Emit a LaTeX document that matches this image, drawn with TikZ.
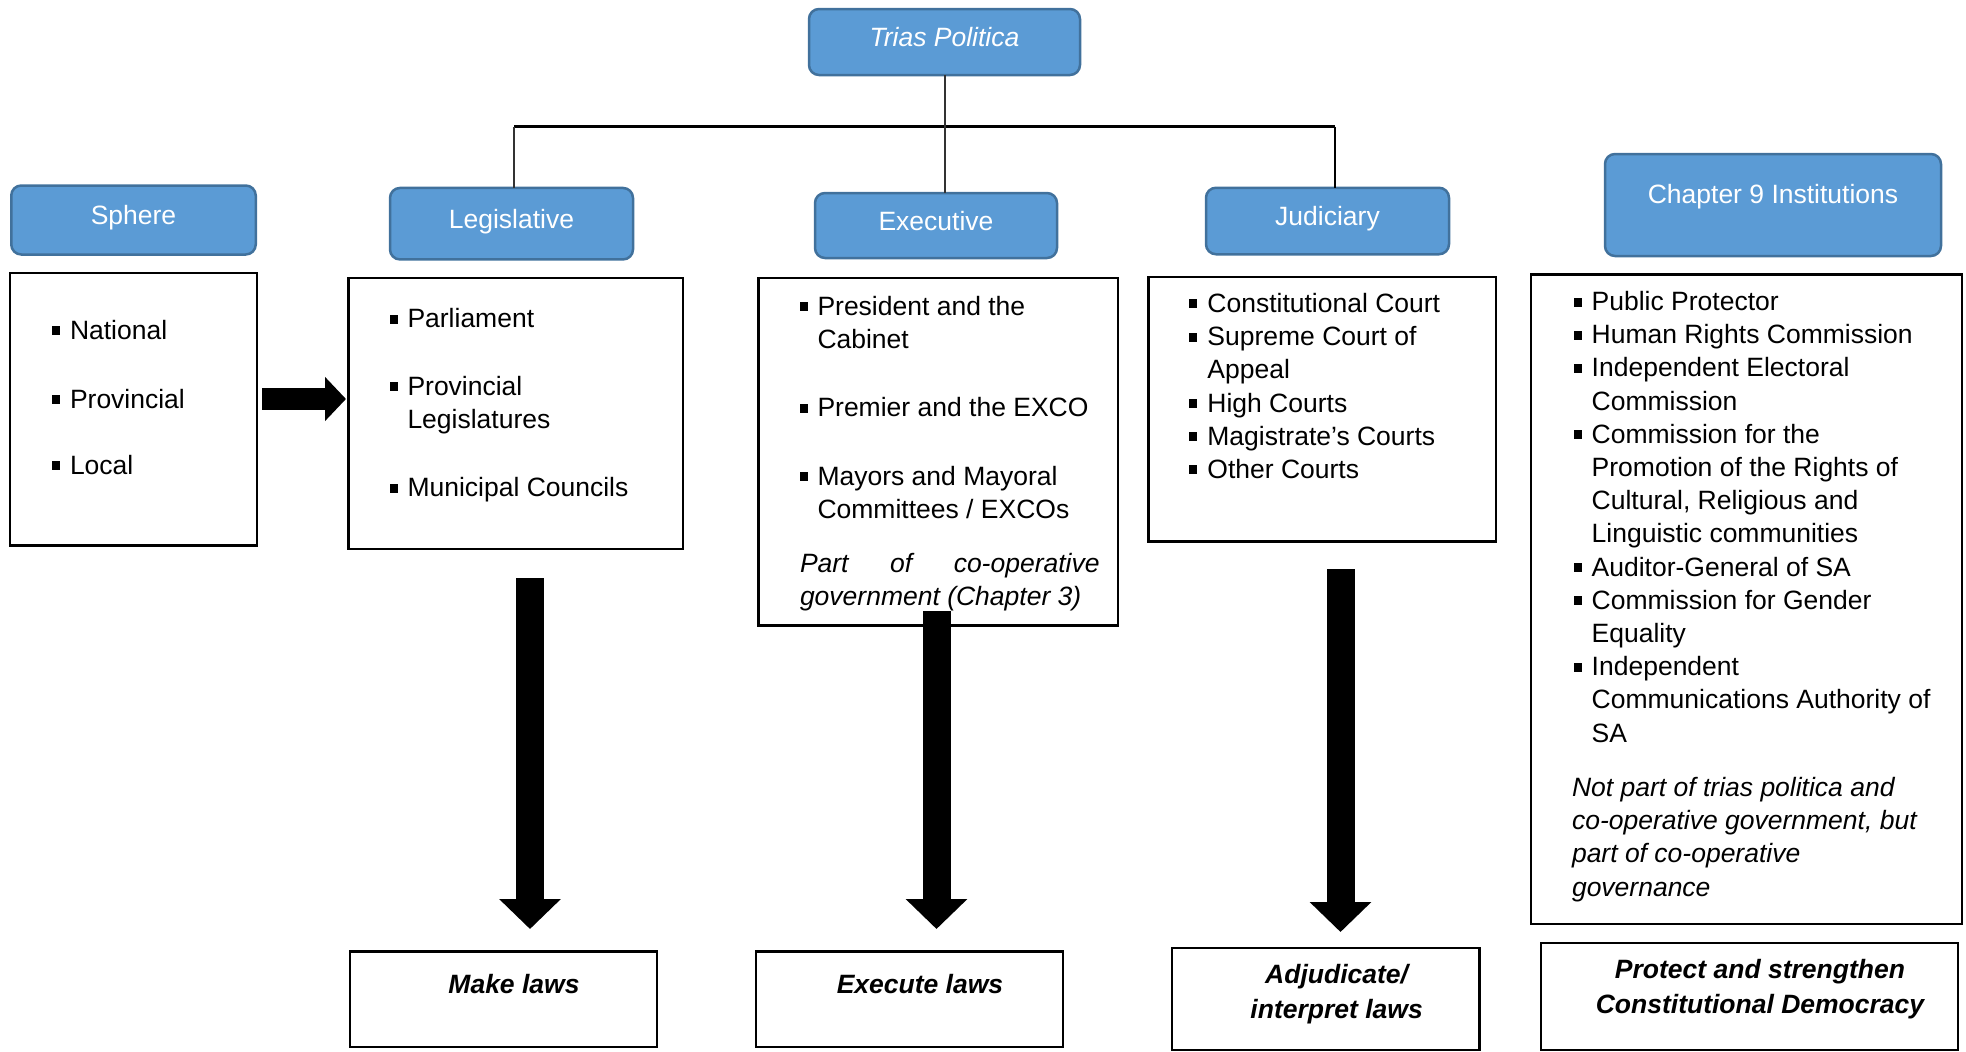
\documentclass[tikz,border=0pt]{standalone}
\usepackage{fontspec}
\setmainfont{Liberation Sans}
\usetikzlibrary{arrows.meta}
\definecolor{hdrfill}{HTML}{5B9BD5}
\definecolor{hdrdraw}{HTML}{41719C}
\newcommand{\bul}{\makebox[18pt][l]{\rule[4pt]{8pt}{9pt}}}
\newcommand{\hang}{\hspace*{18pt}}
\newcommand{\lines}[2][420pt]{\parbox[t]{#1}{\raggedright #2}}
\begin{document}
\begin{tikzpicture}[x=1pt,y=-1pt,
  every node/.style={font=\fontsize{26.5}{33.2}\selectfont, inner sep=0pt, outer sep=0pt},
  hdr/.style={rectangle, rounded corners=10pt, fill=hdrfill, draw=hdrdraw, line width=2.5pt,
              text=white, text height=20pt, text depth=11pt},
  listbox/.style={rectangle, draw=black, line width=2.5pt},
  item/.style={anchor=base west},
  bottxt/.style={anchor=base, font=\fontsize{26.5}{33.2}\selectfont\bfseries\itshape},
  blockarrow/.style={draw=black, line width=#1},
]
\useasboundingbox (0,0) rectangle (1966,1052);

% header boxes
\node[hdr, minimum width=271pt, minimum height=66pt, font=\fontsize{26.5}{33.2}\selectfont\itshape] (trias) at (944.5,42) {Trias Politica};
\node[hdr, minimum width=244.5pt, minimum height=69pt] (sphere) at (133.5,220) {Sphere};
\node[hdr, minimum width=243pt, minimum height=71.5pt] (leg) at (511.5,223.7) {Legislative};
\node[hdr, minimum width=242pt, minimum height=65pt] (exec) at (936,225.5) {Executive};
\node[hdr, minimum width=243pt, minimum height=66.5pt] (jud) at (1327.5,221) {Judiciary};
\node[hdr, minimum width=336pt, minimum height=102pt, text depth=23pt] (chap) at (1773,205) {Chapter 9 Institutions};

% tree connectors
\coordinate (barL) at (514,126.6);
\coordinate (barR) at (1335,126.6);
\draw[line width=3pt, black] (barL) -- (barR);
\draw[line width=2pt, black!80] (trias.south) -- (trias.south |- exec.north);
\draw[line width=2pt, black!80] (barL) -- (barL |- leg.north);
\draw[line width=2pt, black] (barR) -- (barR |- jud.north);

% content boxes
\node[listbox, minimum width=247pt, minimum height=272.4pt] (sphlist) at (133.5,409.2) {};
\node[listbox, minimum width=334.4pt, minimum height=271pt] (leglist) at (515.8,413.5) {};
\node[listbox, minimum width=359.5pt, minimum height=347.6pt] (execlist) at (938.25,451.8) {};
\node[listbox, minimum width=347.5pt, minimum height=264.6pt] (judlist) at (1322.25,409.3) {};
\node[listbox, minimum width=431pt, minimum height=649.4pt] (chlist) at (1746.5,599.3) {};

% bottom boxes
\node[listbox, minimum width=307pt, minimum height=95.4pt] (make) at (503.5,999.3) {};
\node[listbox, minimum width=307pt, minimum height=95.4pt] (execute) at (909.5,999.3) {};
\node[listbox, minimum width=307.5pt, minimum height=102pt] (adj) at (1325.75,999) {};
\node[listbox, minimum width=417pt, minimum height=107pt] (protect) at (1749.5,996.5) {};

% Sphere items
\node[item] (sph1) at (52,339) {\bul National};
\node[item] (sph2) at (52,408) {\bul Provincial};
\node[item] (sph3) at (52,474) {\bul Local};

% Legislative items
\node[item] (leg1) at (389.5,327.5) {\bul Parliament};
\node[item] (leg2) at (389.5,395) {\lines{\bul Provincial\\\hang Legislatures}};
\node[item] (leg3) at (389.5,496.7) {\bul Municipal Councils};

% Executive items
\node[item] (ex1) at (799.5,315) {\lines{\bul President and the\\\hang Cabinet}};
\node[item] (ex2) at (799.5,416.5) {\bul Premier and the EXCO};
\node[item] (ex3) at (799.5,485.4) {\lines{\bul Mayors and Mayoral\\\hang Committees / EXCOs}};
\node[item, font=\fontsize{26.5}{33.2}\selectfont\itshape] (ex4) at (800,572)
  {\lines[299.6pt]{\makebox[299.6pt][s]{Part of co-operative}\\government (Chapter 3)}};

% Judiciary items
\node[item] (jud1) at (1189.4,312.4) {\lines{\bul Constitutional Court\\
  \bul Supreme Court of\\\hang Appeal\\
  \bul High Courts\\
  \bul Magistrate’s Courts\\
  \bul Other Courts}};

% Chapter 9 items
\node[item] (ch1) at (1573.7,310.5) {\lines{\bul Public Protector\\
  \bul Human Rights Commission\\
  \bul Independent Electoral\\\hang Commission\\
  \bul Commission for the\\\hang Promotion of the Rights of\\\hang Cultural, Religious and\\\hang Linguistic communities\\
  \bul Auditor-General of SA\\
  \bul Commission for Gender\\\hang Equality\\
  \bul Independent\\\hang Communications Authority of\\\hang SA}};
\node[item, font=\fontsize{26.5}{33.2}\selectfont\itshape] (ch2) at (1572,796.4)
  {\lines{Not part of trias politica and\\co-operative government, but\\part of co-operative\\governance}};

% bottom texts
\node[bottxt] (maketxt) at (514,993.5) {Make laws};
\node[bottxt] (exectxt) at (920,993.5) {Execute laws};
\node[bottxt] (adjtxt) at (1336.6,983.5) {\parbox[t]{300pt}{\centering Adjudicate/\\[1.8pt]interpret laws}};
\node[bottxt] (prottxt) at (1760,978.5) {\parbox[t]{410pt}{\centering Protect and strengthen\\[1.8pt]Constitutional Democracy}};

% block arrows
\coordinate (raS) at (262,399);
\coordinate (raE) at (346,399);
\draw[blockarrow=22pt, -{Triangle[length=21pt,width=43pt]}] (raS) -- (raE);
\coordinate (d1S) at (530,578);
\coordinate (d1E) at (530,929);
\draw[blockarrow=28pt, -{Triangle[length=30pt,width=60pt]}] (d1S) -- (d1E);
\coordinate (d2S) at (936.5,610.6);
\coordinate (d2E) at (936.5,929);
\draw[blockarrow=28pt, -{Triangle[length=30pt,width=60pt]}] (d2S) -- (d2E);
\coordinate (d3S) at (1340.5,569);
\coordinate (d3E) at (1340.5,932);
\draw[blockarrow=28pt, -{Triangle[length=30pt,width=60pt]}] (d3S) -- (d3E);
\end{tikzpicture}
\end{document}
